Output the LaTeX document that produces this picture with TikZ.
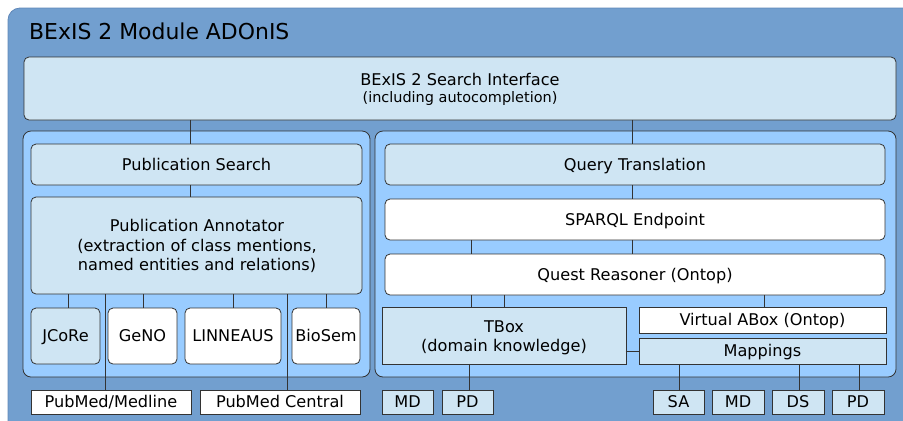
\documentclass[tikz,border=0pt]{standalone}
\usepackage{fontspec}
\setmainfont{DejaVu Sans}
\definecolor{outerblue}{HTML}{729FCF}
\definecolor{outerline}{HTML}{5F87B8}
\definecolor{panelblue}{HTML}{99CCFF}
\definecolor{lightbox}{HTML}{CFE5F3}
\definecolor{lineclr}{HTML}{333333}
\tikzset{
  rbox/.style={draw=lineclr, line width=0.8bp, rounded corners=5bp, fill=lightbox},
  wbox/.style={draw=lineclr, line width=0.8bp, rounded corners=5bp, fill=white},
  sbox/.style={draw=lineclr, line width=0.8bp, fill=lightbox},
  swbox/.style={draw=lineclr, line width=0.8bp, fill=white},
  panel/.style={draw=lineclr, line width=0.8bp, rounded corners=8bp, fill=panelblue},
  conn/.style={draw=lineclr, line width=0.8bp},
  lbl/.style={font=\fontsize{16.2}{19.5}\selectfont, align=center, inner sep=0},
  lblone/.style={lbl, text height=11.8bp, text depth=0bp},
}
\newcommand{\bx}[6]{% style, name, x1, y1, x2, y2
  \path[#1] (#3,#4) rectangle (#5,#6);
  \node[inner sep=0, outer sep=0, minimum width={#5-#3}, minimum height={#6-#4}] (#2) at ({(#3+#5)/2},{(#4+#6)/2}) {};
}
\begin{document}
\begin{tikzpicture}[x=1bp,y=-1bp]
\useasboundingbox (0,0) rectangle (903,420);
\clip (0,0) rectangle (903,420);
% outer frame
\path[fill=outerblue, draw=outerline, line width=0.8bp, rounded corners=12bp] (8,8) rectangle (930,440);
\node[anchor=base west, font=\fontsize{22}{26}\selectfont, inner sep=0] (title) at (29,39) {BExIS 2 Module ADOnIS};
% search interface
\bx{rbox}{si}{24}{57}{896}{120}
\node[lblone] (sit) at (460,80) {BExIS 2 Search Interface};
\node[font=\fontsize{14.5}{17}\selectfont, inner sep=0] (sis) at (460,99) {(including autocompletion)};
% panels
\bx{panel}{lp}{23}{131}{370}{377}
\bx{panel}{rp}{375}{131}{896}{377}
% left side
\bx{rbox}{ps}{31}{144}{362}{185}
\node[lblone] at (ps) {Publication Search};
\bx{rbox}{pa}{31}{197}{362}{294}
\node[lbl] at (197,246) {Publication Annotator\\(extraction of class mentions,\\named entities and relations)};
\bx{rbox}{jc}{31}{308}{100}{364}
\node[lblone] at (jc) {JCoRe};
\bx{wbox}{ge}{108}{308}{177}{364}
\node[lblone] at (ge) {GeNO};
\bx{wbox}{li}{185}{308}{281}{364}
\node[lblone] at (li) {LINNEAUS};
\bx{wbox}{bs}{292}{308}{360}{364}
\node[lblone] at (bs) {BioSem};
\bx{swbox}{pm}{31}{390}{191}{414}
\node[lblone] at (pm) {PubMed/Medline};
\bx{swbox}{pc}{200}{390}{360}{414}
\node[lblone] at (pc) {PubMed Central};
% right side
\bx{rbox}{qt}{385}{144}{885}{185}
\node[lblone] at (qt) {Query Translation};
\bx{wbox}{sp}{385}{199}{885}{240}
\node[lblone] at (sp) {SPARQL Endpoint};
\bx{wbox}{qr}{385}{254}{885}{295}
\node[lblone] at (qr) {Quest Reasoner (Ontop)};
\bx{sbox}{tb}{382}{307}{626}{364}
\node[lbl] at (504,338) {TBox\\(domain knowledge)};
\bx{swbox}{va}{639}{307}{886}{333}
\node[lblone] at (va) {Virtual ABox (Ontop)};
\bx{sbox}{mp}{639}{338}{886}{364}
\node[lblone] at (mp) {Mappings};
\bx{sbox}{md1}{382}{390}{433}{414}
\node[lblone] at (md1) {MD};
\bx{sbox}{pd1}{442}{390}{493}{414}
\node[lblone] at (pd1) {PD};
\bx{sbox}{sa}{653}{390}{704}{414}
\node[lblone] at (sa) {SA};
\bx{sbox}{md2}{712}{390}{764}{414}
\node[lblone] at (md2) {MD};
\bx{sbox}{ds}{772}{390}{824}{414}
\node[lblone] at (ds) {DS};
\bx{sbox}{pd2}{832}{390}{884}{414}
\node[lblone] at (pd2) {PD};
% connectors
\draw[conn] (si.south -| 190,0) -- (ps.north -| 190,0);
\draw[conn] (ps.south -| 190,0) -- (pa.north -| 190,0);
\draw[conn] (si.south -| 632,0) -- (qt.north -| 632,0);
\draw[conn] (qt.south -| 632,0) -- (sp.north -| 632,0);
\draw[conn] (sp.south -| 471,0) -- (qr.north -| 471,0);
\draw[conn] (sp.south -| 632,0) -- (qr.north -| 632,0);
\draw[conn] (qr.south -| 471,0) -- (tb.north -| 471,0);
\draw[conn] (qr.south -| 504,0) -- (tb.north -| 504,0);
\draw[conn] (qr.south -| 764,0) -- (va.north -| 764,0);
\draw[conn] (tb.east |- 0,351) -- (mp.west |- 0,351);
\draw[conn] (tb.south -| 469,0) -- (pd1.north -| 469,0);
\draw[conn] (mp.south -| 679,0) -- (sa.north -| 679,0);
\draw[conn] (mp.south -| 799,0) -- (ds.north -| 799,0);
\draw[conn] (mp.south -| 859,0) -- (pd2.north -| 859,0);
\draw[conn] (pa.south -| 68,0) -- (jc.north -| 68,0);
\draw[conn] (pa.south -| 143,0) -- (ge.north -| 143,0);
\draw[conn] (pa.south -| 233,0) -- (li.north -| 233,0);
\draw[conn] (pa.south -| 326,0) -- (bs.north -| 326,0);
\draw[conn] (pa.south -| 105,0) -- (pm.north -| 105,0);
\draw[conn] (pa.south -| 287,0) -- (pc.north -| 287,0);
\end{tikzpicture}
\end{document}
